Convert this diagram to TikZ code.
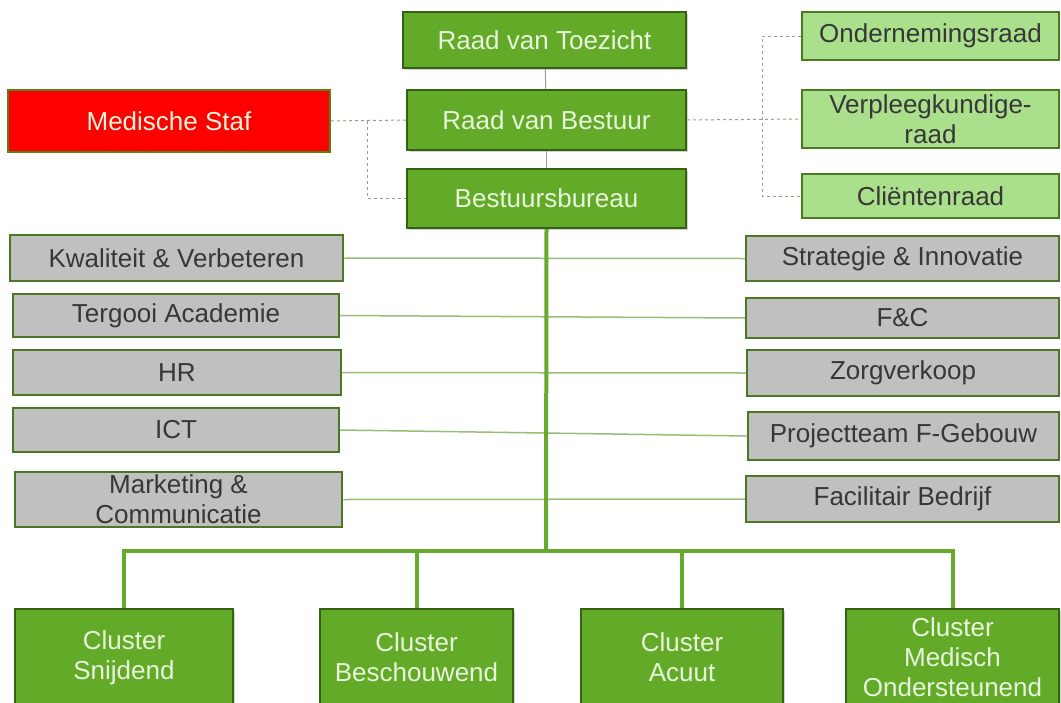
\documentclass[tikz,border=0pt]{standalone}
\usepackage{fontspec}
\setmainfont{Liberation Sans}
\usetikzlibrary{shadows}
\definecolor{boardgreen}{RGB}{98,170,40}
\definecolor{boardedge}{RGB}{52,98,18}
\definecolor{boardtext}{RGB}{232,246,220}
\definecolor{councilgreen}{RGB}{170,224,140}
\definecolor{counciledge}{RGB}{74,122,34}
\definecolor{staffgray}{RGB}{192,192,192}
\definecolor{staffedge}{RGB}{76,120,38}
\definecolor{darktext}{RGB}{55,55,55}
\definecolor{trunkgreen}{RGB}{104,170,46}
\definecolor{thingreen}{RGB}{150,190,118}
\definecolor{dashgray}{RGB}{150,160,135}
\begin{document}
\begin{tikzpicture}[x=1pt,y=-1pt]
    \tikzset{box/.style={draw,inner sep=0pt,align=center,font=\fontsize{26}{30}\selectfont},
        board/.style={box,fill=boardgreen,draw=boardedge,line width=2pt,text=boardtext,
            drop shadow={shadow xshift=1.5pt,shadow yshift=-1.5pt,opacity=.35}},
        council/.style={box,fill=councilgreen,draw=counciledge,line width=2pt,text=darktext},
        staff/.style={box,fill=staffgray,draw=staffedge,line width=2.5pt,text=darktext},
        medstaf/.style={box,fill=red,draw=boardedge!80!yellow,line width=2pt,text=boardtext},
        cluster/.style={board,minimum height=97pt},
        trunk/.style={trunkgreen,line width=4pt},
        thin/.style={thingreen,line width=1.5pt},
        dashline/.style={dashgray,line width=1pt,dashed}}
    \fill[white] (0,0) rectangle (1061,702);
    \useasboundingbox (0,0) rectangle (1061,702);

    % top of the organisation
    \node[board,minimum width=283pt,minimum height=56pt] (rvt) at (544.5,40) {Raad van Toezicht};
    \node[board,minimum width=279pt,minimum height=60pt] (rvb) at (546.5,120) {Raad van Bestuur};
    \node[board,minimum width=279pt,minimum height=59pt] (bb) at (546.5,198.5) {Bestuursbureau};
    \node[medstaf,minimum width=322pt,minimum height=62pt] (ms) at (169,121) {Medische Staf};

    % councils on the right
    \node[council,minimum width=257pt,minimum height=48pt] (or) at (930.5,36) {Ondernemingsraad};
    \node[council,minimum width=257pt,minimum height=58pt] (vr) at (930.5,119) {Verpleegkundige-\\raad};
    \node[council,minimum width=257pt,minimum height=44pt] (cr) at (930.5,196) {Cliëntenraad};

    % staff departments
    \node[staff,minimum width=333pt,minimum height=46pt] (kv) at (176.5,258) {Kwaliteit \& Verbeteren};
    \node[staff,minimum width=326pt,minimum height=43pt] (ta) at (176,315.5) {Tergooi Academie};
    \node[staff,minimum width=328pt,minimum height=45pt] (hr) at (177,372.5) {HR};
    \node[staff,minimum width=326pt,minimum height=44pt] (ict) at (176,430) {ICT};
    \node[staff,minimum width=327pt,minimum height=55pt] (mc) at (178.5,499.5) {Marketing \&\\Communicatie};
    \node[staff,minimum width=313pt,minimum height=45pt] (si) at (902.5,258.5) {Strategie \& Innovatie};
    \node[staff,minimum width=313pt,minimum height=40pt] (fc) at (902.5,318) {F\&C};
    \node[staff,minimum width=312pt,minimum height=46pt] (zv) at (903,373) {Zorgverkoop};
    \node[staff,minimum width=311pt,minimum height=48pt] (pf) at (903.5,436) {Projectteam F-Gebouw};
    \node[staff,minimum width=313pt,minimum height=46pt] (fb) at (902.5,499) {Facilitair Bedrijf};

    % clusters
    \node[cluster,minimum width=218pt] (cs) at (124,657.5) {Cluster\\Snijdend};
    \node[cluster,minimum width=193pt] (cb) at (416.5,657.5) {Cluster\\Beschouwend};
    \node[cluster,minimum width=202pt] (ca) at (682,657.5) {Cluster\\Acuut};
    \node[cluster,minimum width=213pt] (cm) at (952.5,657.5) {Cluster\\Medisch\\Ondersteunend};

    % advisory (dashed) lines
    \coordinate (lj) at (367,121);
    \coordinate (rj) at (762,120);
    \draw[dashline] (ms.east) -- (rvb.west);
    \draw[dashline] (lj) |- (bb.west);
    \draw[dashline] (rvb.east) -- (vr.west);
    \draw[dashline] (or.west) -| (rj) |- (cr.west);

    % hierarchy
    \draw[dashgray,line width=1pt] (rvt) -- (rvb);
    \draw[dashgray,line width=1pt] (rvb) -- (bb);
    \foreach \l/\r in {kv/si,ta/fc,hr/zv,ict/pf,mc/fb}
        \draw[thin] (\l.east) -- (\r.west);
    \coordinate (bus) at (546,551);
    \draw[trunk] (bb.south) -- (bus);
    \draw[trunk] (cs.north) |- (bus) -| (cm.north);
    \draw[trunk] (cb.north) -- (cb.north |- bus);
    \draw[trunk] (ca.north) -- (ca.north |- bus);

  \end{tikzpicture}
\end{document}
